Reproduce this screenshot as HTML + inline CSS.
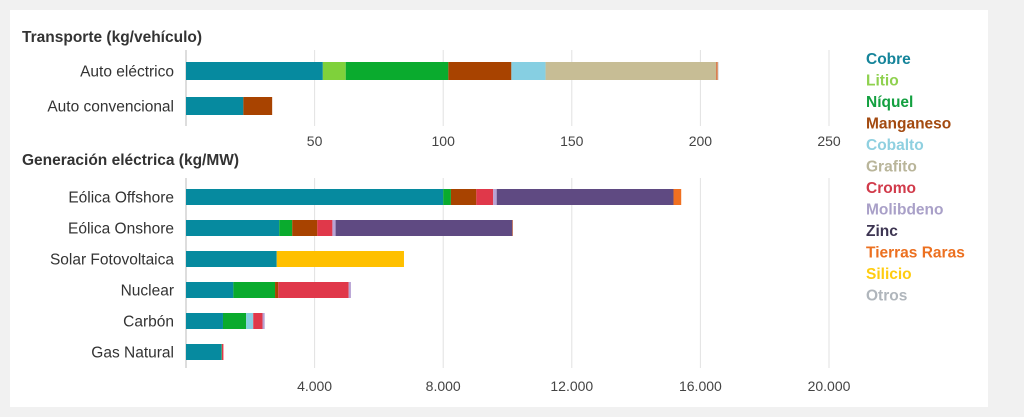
<!DOCTYPE html>
<html><head><meta charset="utf-8"><style>
body{margin:0;background:#f1f1f1;font-family:"Liberation Sans",sans-serif}
svg{display:block}
</style></head><body>
<svg id="c" width="1024" height="417">
<rect x="10" y="10" width="978" height="397" fill="#fff"/>
<text x="22" y="42" font-size="15.5" font-weight="bold" fill="#333">Transporte (kg/vehículo)</text>
<text x="22" y="165" font-size="15.5" font-weight="bold" fill="#333">Generación eléctrica (kg/MW)</text>
<g id="grid"></g><g id="bars"></g><g id="labels"></g><g id="legend"></g>
</svg>
<script>
const minerals=["Cobre","Litio","Níquel","Manganeso","Cobalto","Grafito","Cromo","Molibdeno","Zinc","Tierras Raras","Silicio","Otros"];
const colors=["#068a9f","#7fd13b","#0aab2e","#a84300","#86cfe2","#c7bd95","#e0384a","#b8a3d4","#5f4a82","#f07020","#ffc000","#b8bec4"];
const legendColors=["#15849a","#8fd14f","#13a040","#a34a10","#8fd0e0","#b9b59a","#d13a4a","#a9a0c8","#3d3552","#ec7020","#ffcc10","#b0b6bc"];
const carCats=["Auto eléctrico","Auto convencional"];
const carVals=[[53.2,8.9,39.9,24.5,13.3,66.3,0,0,0.1,0.5,0,0.3],[22.3,0,0,11.2,0,0,0,0,0,0,0,0]];
const carTicks=[50,100,150,200,250];
const powerCats=["Eólica Offshore","Eólica Onshore","Solar Fotovoltaica","Nuclear","Carbón","Gas Natural"];
const powerVals=[[8000,0,240,790,0,0,525,109,5500,239,0,0],[2900,0,404,780,0,0,470,99,5500,14,0,0],[2822,0,0,0,0,0,0,0,0,0,3958,0],[1473,0,1297,100,0,0,2190,70,0,0,0,0],[1150,0,721,0,220,0,290,66,0,0,0,0],[1100,0,16,0,0,0,48,0,0,0,0,0]];
const powerTicks=["4.000","8.000","12.000","16.000","20.000"];
const powerTickVals=[4000,8000,12000,16000,20000];
const X0=186;
const xCar=v=>X0+v*128.6/50;
const xPow=v=>X0+v*128.6/4000;
const NS="http://www.w3.org/2000/svg";
function mk(t,a,p){const e=document.createElementNS(NS,t);for(const k in a)e.setAttribute(k,a[k]);p.appendChild(e);return e;}
const G=document.getElementById('grid'),B=document.getElementById('bars'),L=document.getElementById('labels'),LG=document.getElementById('legend');
carTicks.forEach((t,i)=>{
 const l=mk('line',{x1:xCar(t),x2:xCar(t),y1:50,y2:126,stroke:'#e2e2e2'},G);
 
 
 const tx=mk('text',{x:xCar(t),y:146,'font-size':14,fill:'#444','text-anchor':'middle'},L);tx.textContent=t;
 
 
});
powerTickVals.forEach((t,i)=>{
 const l=mk('line',{x1:xPow(t),x2:xPow(t),y1:178,y2:368,stroke:'#e2e2e2'},G);
 
 
 const tx=mk('text',{x:xPow(t),y:391,'font-size':14,fill:'#444','text-anchor':'middle'},L);tx.textContent=powerTicks[i];
 
 
});
mk('line',{x1:X0,x2:X0,y1:50,y2:126,stroke:'#bbb'},G);
mk('line',{x1:X0,x2:X0,y1:178,y2:368,stroke:'#bbb'},G);
function drawRows(cats,vals,xf,y0,step,h,kind){
 cats.forEach((c,i)=>{
  const yc=y0+i*step;
  const tx=mk('text',{x:174,y:yc+5.5,'font-size':15.5,fill:'#333','text-anchor':'end'},L);tx.textContent=c;
  
  
  let acc=0;
  vals[i].forEach((v,j)=>{
   if(v<=0)return;
   const r=mk('rect',{x:xf(acc),y:yc-h/2,width:xf(acc+v)-xf(acc),height:h,fill:colors[j]},B);
   
   
   acc+=v;
  });
 });
}
drawRows(carCats,carVals,xCar,71,35,18,'transport');
drawRows(powerCats,powerVals,xPow,197,31,16,'power');
minerals.forEach((m,i)=>{
 const t=mk('text',{x:866,y:64+i*21.5,'font-size':15.5,'font-weight':'bold',fill:legendColors[i]},LG);t.textContent=m;
 
 
});
</script>
</body></html>
